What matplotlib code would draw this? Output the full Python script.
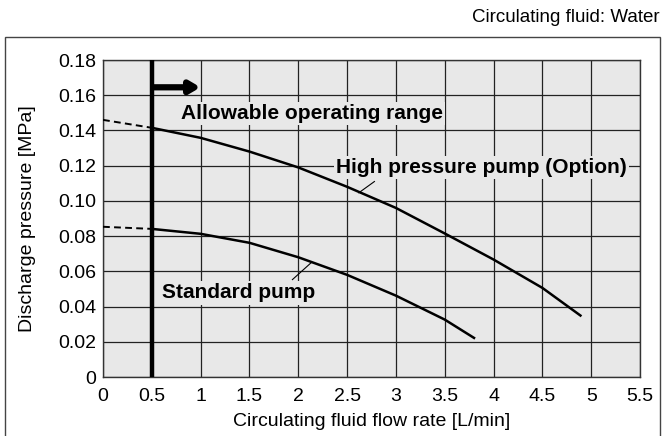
import matplotlib
matplotlib.use("Agg")
import matplotlib.pyplot as plt
from matplotlib.patches import Rectangle

plt.rcParams['font.family'] = ['Liberation Sans', 'DejaVu Sans']

# Data
high_x = [0.5, 1.0, 1.5, 2.0, 2.5, 3.0, 3.5, 4.0, 4.5, 4.89]
high_y = [0.1415, 0.1358, 0.128, 0.119, 0.108, 0.096, 0.0815, 0.0667, 0.0506, 0.0349]
high_dash_x = [0.0, 0.5]
high_dash_y = [0.146, 0.1415]

std_x = [0.5, 1.0, 1.5, 2.0, 2.5, 3.0, 3.5, 3.80]
std_y = [0.0841, 0.0813, 0.0762, 0.068, 0.058, 0.0462, 0.0326, 0.0222]
std_dash_x = [0.0, 0.5]
std_dash_y = [0.0853, 0.0841]

min_flow = 0.5
x_ticks = [0, 0.5, 1, 1.5, 2, 2.5, 3, 3.5, 4, 4.5, 5, 5.5]
x_ticklabels = ['0', '0.5', '1', '1.5', '2', '2.5', '3', '3.5', '4', '4.5', '5', '5.5']
y_ticks = [0, 0.02, 0.04, 0.06, 0.08, 0.10, 0.12, 0.14, 0.16, 0.18]
y_ticklabels = ['0', '0.02', '0.04', '0.06', '0.08', '0.10', '0.12', '0.14', '0.16', '0.18']

W, H = 663, 436
fig = plt.figure(figsize=(W / 100, H / 100), dpi=100)
fig.patch.set_facecolor('white')

# outer frame
fig.patches.append(Rectangle((5 / W, -0.02), (660 - 5) / W, 1 - 37 / H + 0.02,
                             transform=fig.transFigure, fill=False,
                             edgecolor='#444444', linewidth=1.0, clip_on=False))

fig.text(660 / W, 1 - 17 / H, 'Circulating fluid: Water', ha='right', va='center',
         fontsize=13.5)

left, right, top, bottom = 103, 640, 60, 377
ax = fig.add_axes([left / W, 1 - bottom / H, (right - left) / W, (bottom - top) / H])
ax.set_facecolor('#e8e8e8')
ax.set_xlim(0, 5.5)
ax.set_ylim(0, 0.18)
ax.set_xticks(x_ticks)
ax.set_xticklabels(x_ticklabels)
ax.set_yticks(y_ticks)
ax.set_yticklabels(y_ticklabels)
ax.tick_params(axis='x', length=0, labelsize=14, pad=8)
ax.tick_params(axis='y', length=0, labelsize=14, pad=5)
ax.grid(True, color='#222222', linewidth=0.9)
ax.set_axisbelow(True)
for s in ax.spines.values():
    s.set_color('#333333')
    s.set_linewidth(1.0)

ax.set_xlabel('Circulating fluid flow rate [L/min]', fontsize=14, labelpad=6)
ax.set_ylabel('Discharge pressure [MPa]', fontsize=14, labelpad=16)

ax.plot(high_x, high_y, color='black', linewidth=1.8, zorder=4)
ax.plot(high_dash_x, high_dash_y, color='black', linewidth=1.4, linestyle=(0, (3.5, 2.2)), zorder=4)
ax.plot(std_x, std_y, color='black', linewidth=1.8, zorder=4)
ax.plot(std_dash_x, std_dash_y, color='black', linewidth=1.4, linestyle=(0, (3.5, 2.2)), zorder=4)

ax.axvline(min_flow, color='black', linewidth=3.2, zorder=5)
ax.annotate('', xy=(1.0, 0.1645), xytext=(min_flow, 0.1645),
            arrowprops=dict(arrowstyle='-|>,head_length=0.6,head_width=0.35',
                            color='black', linewidth=4.5, shrinkA=0, shrinkB=0,
                            capstyle='butt'),
            zorder=4)

bbox = dict(boxstyle='square,pad=0.1', facecolor='#e8e8e8', edgecolor='none')
ax.text(0.80, 0.1497, 'Allowable operating range', fontsize=15, fontweight='bold',
        ha='left', va='center', bbox=bbox, zorder=5)
ax.text(2.39, 0.1188, 'High pressure pump (Option)', fontsize=15, fontweight='bold',
        ha='left', va='center', bbox=bbox, zorder=5)
ax.text(0.60, 0.0477, 'Standard pump', fontsize=15, fontweight='bold',
        ha='left', va='center', bbox=bbox, zorder=5)

ax.plot([2.78, 2.62], [0.111, 0.1046], color='black', linewidth=0.8, zorder=5)
ax.plot([2.13, 1.94], [0.0648, 0.0553], color='black', linewidth=0.8, zorder=5)

fig.savefig('out.png', dpi=100)
